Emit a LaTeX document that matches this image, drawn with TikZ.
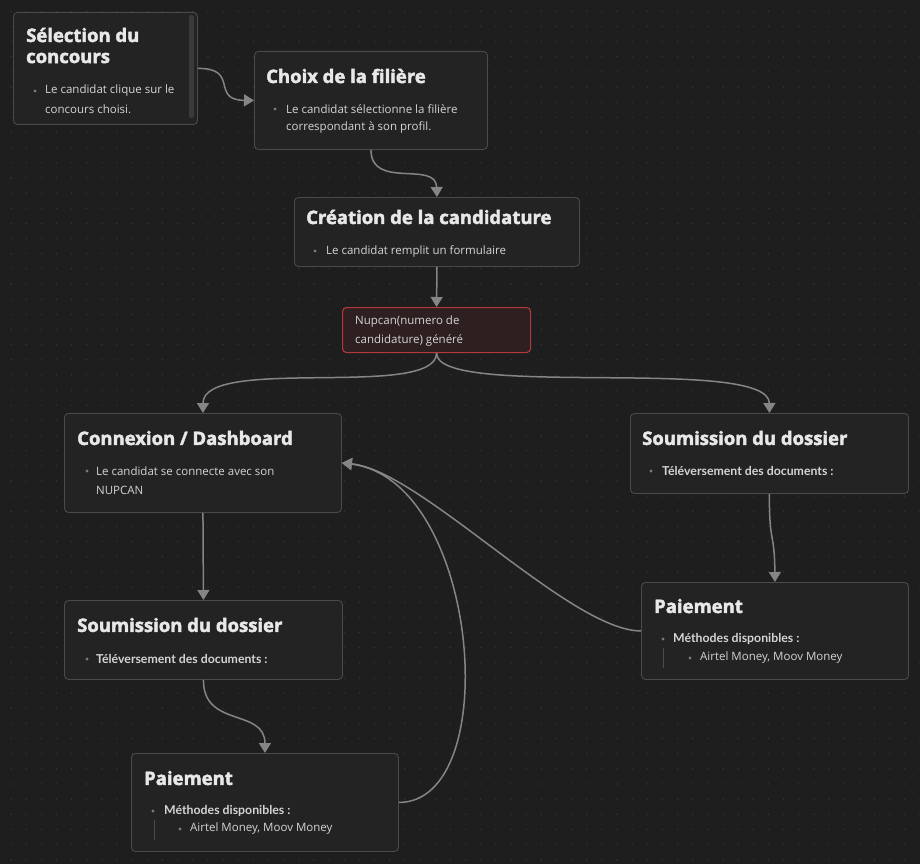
\documentclass[tikz,border=0pt]{standalone}
\usepackage{fontspec}
\setmainfont{Open Sans}
\newfontfamily\heavyfont{Open Sans}[BoldFeatures={FakeBold=2.4}]
\newfontfamily\semifont{Lato}
\usetikzlibrary{arrows.meta}
\definecolor{bg}{HTML}{1E1E1E}
\definecolor{dotc}{HTML}{353535}
\definecolor{boxfill}{HTML}{232323}
\definecolor{boxline}{HTML}{4A4A4A}
\definecolor{scrollc}{HTML}{3A3A3A}
\definecolor{titlec}{HTML}{E8E8E8}
\definecolor{bodyc}{HTML}{D4D4D4}
\definecolor{bulc}{HTML}{7A7A7A}
\definecolor{edgec}{HTML}{858585}
\definecolor{redfill}{HTML}{2E1F20}
\definecolor{redline}{HTML}{B2383D}
\tikzset{
  card/.style={draw=boxline, fill=boxfill, line width=0.9pt, rounded corners=4pt, inner sep=0pt, anchor=north west},
  redcard/.style={card, draw=redline, fill=redfill, line width=1.1pt},
  ttl/.style={anchor=west, inner sep=0pt, text=titlec, font=\heavyfont\fontsize{18.5}{20}\selectfont\bfseries},
  body/.style={anchor=west, inner sep=0pt, text=bodyc, font=\fontsize{11.5}{14}\selectfont},
  bbody/.style={body, font=\semifont\fontsize{12.3}{14}\selectfont\bfseries},
  bul/.style={circle, fill=bulc, inner sep=0pt, minimum size=3.4pt},
  conn/.style={draw=edgec, line width=1.5pt, -{Triangle[width=12pt,length=10pt]}},
}
\begin{document}
\begin{tikzpicture}[x=1pt,y=-1pt]
\fill[bg] (0,0) rectangle (920,864);
\useasboundingbox (0,0) rectangle (920,864);
\foreach \i in {0,...,60}{\foreach \j in {0,...,56}{
  \fill[dotc] (11+\i*15.15,11.3+\j*15.15) circle (0.8pt);}}

% boxes
\node[card, minimum width=184pt, minimum height=112pt] (s1) at (13,12) {};
\fill[scrollc, rounded corners=2pt] (189,15) rectangle (194,118);
\node[card, minimum width=233pt, minimum height=98pt] (s2) at (254,51) {};
\node[card, minimum width=285pt, minimum height=69pt] (s3) at (294,197) {};
\node[redcard, minimum width=188pt, minimum height=45pt] (s4) at (342,307) {};
\node[card, minimum width=277pt, minimum height=99pt] (s5) at (64,413) {};
\node[card, minimum width=278pt, minimum height=80pt] (s6) at (630,413) {};
\node[card, minimum width=278pt, minimum height=79pt] (s7) at (64,600) {};
\node[card, minimum width=267pt, minimum height=97pt] (s8) at (641,582) {};
\node[card, minimum width=267pt, minimum height=98pt] (s9) at (131,753) {};

% texts box 1
\node[ttl] (t1a) at (26,35) {Sélection du};
\node[ttl] (t1b) at (26,58) {concours};
\node[bul] (b1) at (35,91) {};
\node[body] (x1a) at (45,91) {Le candidat clique sur le};
\node[body] (x1b) at (45,109) {concours choisi.};
% box 2
\node[ttl] (t2) at (266,76) {Choix de la filière};
\node[bul] (b2) at (275,109) {};
\node[body] (x2a) at (286,109) {Le candidat sélectionne la filière};
\node[body] (x2b) at (286,127) {correspondant à son profil.};
% box 3
\node[ttl] (t3) at (306,217) {Création de la candidature};
\node[bul] (b3) at (315,251) {};
\node[body] (x3) at (326,251) {Le candidat remplit un formulaire};
% box 4
\node[body] (x4a) at (355,322) {Nupcan(numero de};
\node[body] (x4b) at (355,340) {candidature) généré};
% box 5
\node[ttl] (t5) at (77,438) {Connexion / Dashboard};
\node[bul] (b5) at (87,471) {};
\node[body] (x5a) at (96,471) {Le candidat se connecte avec son};
\node[body] (x5b) at (96,490) {NUPCAN};
% box 6
\node[ttl] (t6) at (642,438) {Soumission du dossier};
\node[bul] (b6) at (651,471) {};
\node[bbody] (x6) at (662,471) {Téléversement des documents :};
% box 7
\node[ttl] (t7) at (77,625) {Soumission du dossier};
\node[bul] (b7) at (87,659) {};
\node[bbody] (x7) at (96,659) {Téléversement des documents :};
% box 8
\node[ttl] (t8) at (654,606) {Paiement};
\node[bul] (b8) at (663,639) {};
\node[bbody] (x8a) at (673,639) {Méthodes disponibles :};
\draw[boxline, line width=0.8pt] (663,648) -- (663,668);
\node[bul] (b8b) at (690,658) {};
\node[body] (x8b) at (700,658) {Airtel Money, Moov Money};
% box 9
\node[ttl] (t9) at (144,778) {Paiement};
\node[bul] (b9) at (153,811) {};
\node[bbody] (x9a) at (164,811) {Méthodes disponibles :};
\draw[boxline, line width=0.8pt] (154,820) -- (154,840);
\node[bul] (b9b) at (180,829) {};
\node[body] (x9b) at (190,829) {Airtel Money, Moov Money};

% connectors
\draw[conn] (s1.east) .. controls (240,68) and (210,100) .. (s2.west);
\draw[conn] (s2.south) .. controls (371,190) and (436,160) .. (s3.north);
\draw[conn] (s3.south) -- (s4.north);
\draw[conn] (s4.south) .. controls (436,400) and (203,355) .. (s5.north);
\draw[conn] (s4.south) .. controls (436,400) and (769,355) .. (s6.north);
\draw[conn] (s5.south) -- (s7.north);
\draw[conn] (s7.south) .. controls (203,728) and (265,708) .. (s9.north);
\draw[conn] (s6.south) .. controls (769,545) and (774.5,530) .. (s8.north);
\draw[conn] (s8.west) .. controls (570,631) and (420,470) .. (s5.east);
\draw[conn] (s9.east) .. controls (505,802) and (480,480) .. (s5.east);
\end{tikzpicture}
\end{document}
